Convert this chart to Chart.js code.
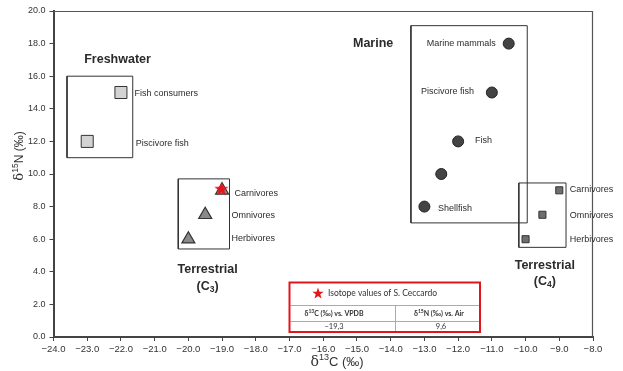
<!DOCTYPE html>
<html>
<head>
<meta charset="utf-8">
<script src="https://cdn.jsdelivr.net/npm/chart.js@4.4.0/dist/chart.umd.min.js"></script>
<style>
  html, body { margin: 0; padding: 0; background: #fff; }
  #wrap { width: 623px; height: 371px; }
</style>
</head>
<body>
<div id="wrap"><canvas id="chart" width="623" height="371"></canvas></div>
<script>
// tick labels
const xTicks = [-24, -23, -22, -21, -20, -19, -18, -17, -16, -15, -14, -13, -12, -11, -10, -9, -8];
const yTicks = [0, 2, 4, 6, 8, 10, 12, 14, 16, 18, 20];

// freshwater
const freshC = [-22, -23];
const freshN = [15, 12];
// terrestrial C3
const c3C = [-19, -19.5, -20];
const c3N = [9, 7.5, 6];
// marine
const marineC = [-10.5, -11, -12, -12.5, -13];
const marineN = [18, 15, 12, 10, 8];
// terrestrial C4
const c4C = [-9, -9.5, -10];
const c4N = [9, 7.5, 6];
// S. Ceccardo
const ceccardoC = [-19.02];
const ceccardoN = [9.1];
const ceccardoTable = ['\u221219,3', '9,6'];

// group extents: [C min, C max, N min, N max]
const freshBox = [-23.6, -21.65, 11, 16];
const c3Box = [-20.3, -18.78, 5.4, 9.7];
const marineBox = [-13.4, -9.95, 7, 19.1];
const c4Box = [-10.2, -8.8, 5.5, 9.45];

const FONT = 'Liberation Sans, Arial, sans-serif';

function boxPath(b) {
    return [
        { x: b[0], y: b[2] }, { x: b[1], y: b[2] },
        { x: b[1], y: b[3] }, { x: b[0], y: b[3] }, { x: b[0], y: b[2] }
    ];
}
function pts(xs, ys) {
    return xs.map((x, i) => ({ x: x, y: ys[i] }));
}
function starCanvas(size, color) {
    const c = document.createElement('canvas');
    c.width = size; c.height = size;
    const g = c.getContext('2d');
    g.beginPath();
    for (let i = 0; i < 10; i++) {
        const r = i % 2 ? size * 0.2 : size / 2;
        const a = -Math.PI / 2 + i * Math.PI / 5;
        g.lineTo(size / 2 + r * Math.cos(a), size / 2 + 0.6 + r * Math.sin(a));
    }
    g.closePath();
    g.fillStyle = color;
    g.fill();
    return c;
}
const star = starCanvas(15, '#e8141b');
const smallStar = starCanvas(12, '#e8141b');

function boxSet(b) {
    return {
        type: 'scatter', data: boxPath(b), showLine: true, fill: false,
        borderColor: '#333', borderWidth: 1, pointRadius: 0, tension: 0
    };
}

// labels drawn in data units
const labels = [
    { t: 'Freshwater', x: -22.1, y: 17.0, align: 'center', bold: true },
    { t: 'Fish consumers', x: -21.6, y: 14.95 },
    { t: 'Piscivore fish', x: -21.56, y: 11.85 },
    { t: 'Carnivores', x: -18.63, y: 8.82 },
    { t: 'Omnivores', x: -18.72, y: 7.44 },
    { t: 'Herbivores', x: -18.72, y: 6.02 },
    { t: 'Terrestrial', x: -19.43, y: 4.12, align: 'center', bold: true },
    { t: 'Marine', x: -14.52, y: 18.0, align: 'center', bold: true },
    { t: 'Marine mammals', x: -12.93, y: 18.0 },
    { t: 'Piscivore fish', x: -13.1, y: 15.05 },
    { t: 'Fish', x: -11.5, y: 12.05 },
    { t: 'Shellfish', x: -12.6, y: 7.9 },
    { t: 'Carnivores', x: -8.69, y: 9.03 },
    { t: 'Omnivores', x: -8.69, y: 7.44 },
    { t: 'Herbivores', x: -8.69, y: 5.96 },
    { t: 'Terrestrial', x: -9.43, y: 4.38, align: 'center', bold: true }
];

function rich(ctx, parts, x, y, align) {
    let w = 0;
    parts.forEach(p => {
        ctx.font = (p.bold ? 'bold ' : '') + p.size + 'px ' + (p.family || FONT);
        p.w = ctx.measureText(p.t).width;
        w += p.w;
    });
    let cx = align === 'center' ? x - w / 2 : (align === 'right' ? x - w : x);
    ctx.textAlign = 'left';
    ctx.textBaseline = 'middle';
    parts.forEach(p => {
        ctx.font = (p.bold ? 'bold ' : '') + p.size + 'px ' + (p.family || FONT);
        ctx.fillText(p.t, cx, y + (p.dy || 0));
        cx += p.w;
    });
}

const decor = {
    id: 'decor',
    afterDatasetsDraw(chart) {
        const ctx = chart.ctx;
        const a = chart.chartArea;
        const sx = chart.scales.x, sy = chart.scales.y;
        ctx.save();

        // top and right frame
        ctx.strokeStyle = '#555';
        ctx.lineWidth = 1.2;
        ctx.beginPath();
        ctx.moveTo(a.left, a.top + 0.5);
        ctx.lineTo(a.right - 0.5, a.top + 0.5);
        ctx.lineTo(a.right - 0.5, a.bottom);
        ctx.stroke();

        ctx.fillStyle = '#2b2b2b';
        labels.forEach(l => {
            rich(ctx, [{ t: l.t, size: l.bold ? 12.5 : 9, bold: l.bold }],
                sx.getPixelForValue(l.x), sy.getPixelForValue(l.y), l.align || 'left');
        });
        // (C3) and (C4)
        [[-19.43, 3.07, '3'], [-9.43, 3.4, '4']].forEach(s => {
            rich(ctx, [
                { t: '(C', size: 12.5, bold: true },
                { t: s[2], size: 8.5, bold: true, dy: 3 },
                { t: ')', size: 12.5, bold: true }
            ], sx.getPixelForValue(s[0]), sy.getPixelForValue(s[1]), 'center');
        });

        // axis titles
        ctx.fillStyle = '#333';
        rich(ctx, [
            { t: '\u03b4', size: 14, family: 'DejaVu Serif, serif' },
            { t: '13', size: 9, dy: -4 },
            { t: 'C (\u2030)', size: 13 }
        ], 337, 362, 'center');
        ctx.save();
        ctx.translate(20, 156);
        ctx.rotate(-Math.PI / 2);
        rich(ctx, [
            { t: '\u03b4', size: 13, family: 'DejaVu Serif, serif' },
            { t: '15', size: 8.5, dy: -4 },
            { t: 'N (\u2030)', size: 12 }
        ], 0, 0, 'center');
        ctx.restore();

        // inset table
        const L = 289.5, R = 480, T = 282.5, B = 332;
        ctx.fillStyle = '#fff';
        ctx.fillRect(L, T, R - L, B - T);
        ctx.strokeStyle = '#aaa';
        ctx.lineWidth = 1;
        ctx.beginPath();
        ctx.moveTo(L + 1, 305.5); ctx.lineTo(R - 1, 305.5);
        ctx.moveTo(L + 1, 321.5); ctx.lineTo(R - 1, 321.5);
        ctx.moveTo(395.5, 305.5); ctx.lineTo(395.5, B - 1);
        ctx.stroke();
        ctx.strokeStyle = '#e3151c';
        ctx.lineWidth = 2;
        ctx.strokeRect(L, T, R - L, B - T);

        ctx.drawImage(smallStar, 312, 287);
        ctx.fillStyle = '#333';
        const tf = 'Lato, Open Sans, sans-serif';
        rich(ctx, [{ t: 'Isotope values of S. Ceccardo', size: 8.5, family: tf }], 328, 293.5, 'left');
        rich(ctx, [
            { t: '\u03b4', size: 7, family: tf, bold: true },
            { t: '13', size: 5, family: tf, bold: true, dy: -2 },
            { t: 'C (\u2030) vs. VPDB', size: 7, family: tf, bold: true }
        ], 334, 313.5, 'center');
        rich(ctx, [
            { t: '\u03b4', size: 7, family: tf, bold: true },
            { t: '15', size: 5, family: tf, bold: true, dy: -2 },
            { t: 'N (\u2030) vs. Air', size: 7, family: tf, bold: true }
        ], 439, 313.5, 'center');
        rich(ctx, [{ t: ceccardoTable[0], size: 7.5, family: tf }], 334, 327, 'center');
        rich(ctx, [{ t: ceccardoTable[1], size: 7.5, family: tf }], 441, 327, 'center');

        ctx.restore();
    }
};

const fmt = v => (v < 0 ? '\u2212' : '') + Math.abs(v).toFixed(1);

new Chart(document.getElementById('chart'), {
    type: 'scatter',
    data: {
        // first dataset is drawn on top
        datasets: [
            {
                data: pts(ceccardoC, ceccardoN), pointStyle: star, pointRadius: 7
            },
            {
                data: pts(freshC, freshN), pointStyle: 'rect', pointRadius: 8.5,
                backgroundColor: '#d3d3d3', borderColor: '#333', borderWidth: 1
            },
            {
                data: pts(c3C, c3N), pointStyle: 'triangle', pointRadius: 7.5,
                backgroundColor: '#8a8a8a', borderColor: '#333', borderWidth: 1.2
            },
            {
                data: pts(marineC, marineN), pointStyle: 'circle', pointRadius: 5.5,
                backgroundColor: '#444', borderColor: '#222', borderWidth: 1
            },
            {
                data: pts(c4C, c4N), pointStyle: 'rect', pointRadius: 5,
                backgroundColor: '#6e6e6e', borderColor: '#333', borderWidth: 1
            },
            boxSet(freshBox), boxSet(c3Box), boxSet(marineBox), boxSet(c4Box)
        ]
    },
    options: {
        responsive: false,
        animation: false,
        layout: { padding: { top: 11, right: 30, left: 0, bottom: 0 } },
        plugins: { legend: { display: false }, tooltip: { enabled: false } },
        scales: {
            x: {
                type: 'linear', min: -24, max: -8,
                afterBuildTicks: s => { s.ticks = xTicks.map(v => ({ value: v })); },
                afterFit: s => { s.height = 34; },
                ticks: {
                    callback: fmt, color: '#333', padding: 3, maxRotation: 0, autoSkip: false,
                    font: { family: FONT, size: 9.5 }
                },
                grid: { drawOnChartArea: false, tickLength: 4, color: '#444' },
                border: { color: '#444', width: 2 }
            },
            y: {
                type: 'linear', min: 0, max: 20,
                afterBuildTicks: s => { s.ticks = yTicks.map(v => ({ value: v })); },
                afterFit: s => { s.width = 53.5; },
                ticks: {
                    callback: fmt, color: '#333', padding: 4, autoSkip: false,
                    font: { family: FONT, size: 9 }
                },
                grid: { drawOnChartArea: false, tickLength: 4, color: '#444' },
                border: { color: '#444', width: 2 }
            }
        }
    },
    plugins: [decor]
});
</script>
</body>
</html>
